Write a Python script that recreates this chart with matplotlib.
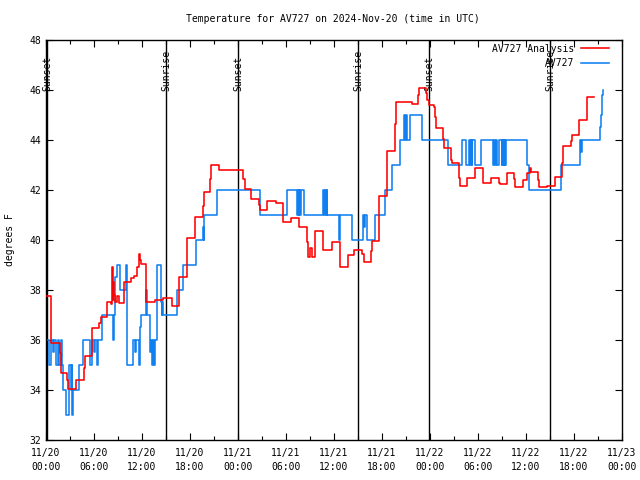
import matplotlib
matplotlib.use("Agg")
import matplotlib.pyplot as plt
import numpy as np

# Hours since 2024-11-20 00:00 UTC
red_h = [0.0, 0.67, 1.75, 1.83, 1.92, 2.67, 2.79, 3.71, 4.75, 4.83, 5.71, 5.79, 6.625, 6.83,
         7.58, 7.67, 8.08, 8.29, 8.35, 8.42, 8.5, 8.58, 8.92, 9.125, 9.75, 10.67, 11.0, 11.42,
         11.625, 11.75, 11.83, 12.46, 13.625, 14.67, 15.7, 16.67, 17.58, 18.625, 19.67, 19.8,
         20.5, 20.6, 21.67, 24.67, 24.875, 25.58, 26.58, 26.7, 27.67, 28.7, 29.67, 30.625,
         31.67, 32.58, 32.7, 33.0, 33.2, 33.625, 34.58, 35.71, 36.75, 37.71, 38.54, 39.46,
         39.75, 40.58, 40.71, 41.67, 42.58, 42.67, 43.625, 43.71, 45.71, 46.54, 46.625, 47.46,
         47.58, 47.875, 48.5, 48.625, 48.71, 49.67, 49.79, 50.625, 50.71, 51.625, 51.75,
         52.67, 53.625, 54.58, 54.67, 55.625, 56.67, 56.75, 57.67, 58.54, 58.625, 59.58,
         60.17, 60.5, 60.58, 61.54, 61.67, 62.67, 63.67, 64.46, 64.58, 64.67, 65.58, 65.71,
         66.625, 67.58, 68.54]
red_t = [37.76, 35.87, 35.47, 35.0, 34.67, 34.4, 34.03, 34.4, 34.87, 35.36, 36.0, 36.47, 36.69, 36.93,
         37.33, 37.53, 37.45, 38.9, 37.6, 38.3, 37.8, 37.53, 37.75, 37.47, 38.33, 38.47, 38.56, 38.93,
         39.44, 39.2, 39.04, 37.53, 37.6, 37.67, 37.36, 38.51, 40.07, 40.91, 41.37, 41.91,
         42.43, 42.99, 42.8, 42.43, 42.03, 41.63, 41.4, 41.2, 41.57, 41.47, 40.73, 40.87,
         40.51, 39.93, 39.33, 39.67, 39.33, 40.37, 39.6, 39.91, 38.91, 39.39, 39.6, 39.44,
         39.13, 39.57, 39.97, 41.76, 42.67, 43.57, 44.63, 45.51, 45.43, 45.8, 46.07, 45.87,
         45.6, 45.4, 45.33, 44.93, 44.47, 44.03, 43.67, 43.2, 43.07, 42.47, 42.16,
         42.47, 42.87, 42.53, 42.27, 42.47, 42.27, 42.24, 42.67, 42.43, 42.13, 42.4,
         42.67, 42.87, 42.73, 42.4, 42.11, 42.16, 42.51, 43.07, 43.13, 43.76, 43.97, 44.2,
         44.8, 45.73, 45.73]

blue_h = [0.0, 0.42, 0.58, 0.83, 1.0, 1.25, 1.45, 1.67, 1.83, 2.0, 2.17, 2.5, 2.92, 3.08, 3.2,
          3.3, 3.42, 4.17, 4.67, 5.5, 5.7, 6.0, 6.17, 6.33, 6.54, 6.96, 8.42, 8.54, 8.625,
          8.92, 9.25, 10.0, 10.17, 10.92, 11.1, 11.3, 11.6, 11.75, 11.9, 12.5, 12.67, 13.0,
          13.1, 13.2, 13.35, 13.5, 13.6, 13.83, 14.33, 14.45, 14.55, 14.67, 16.33, 17.17,
          18.7, 19.67, 19.72, 19.75, 19.8, 21.4, 26.75, 30.08, 31.42, 31.5, 31.58, 31.67,
          31.8, 31.9, 32.3, 34.67, 34.75, 34.85, 35.0, 35.1, 35.17, 36.67, 36.75, 38.2,
          39.58, 39.75, 39.85, 40.08, 41.125, 42.375, 43.2, 44.25, 44.75, 44.9, 45.0, 45.1,
          45.5, 46.96, 50.2, 51.96, 52.5, 52.9, 53.0, 53.08, 53.2, 53.3, 53.625, 54.4,
          55.92, 56.0, 56.1, 56.25, 56.4, 56.67, 56.96, 57.05, 57.1, 57.2, 57.25, 57.35,
          57.4, 57.5, 60.08, 60.35, 64.4, 66.8, 66.9, 66.95, 69.2, 69.35, 69.5, 69.6]
blue_t = [36, 35, 36, 35.5, 36, 35, 36, 35, 36, 35, 34, 33, 35, 34, 35,
          33, 34, 35, 36, 35, 36, 35.5, 36, 35, 36, 37, 36, 37, 38.5,
          39, 38, 39, 35, 36, 35.5, 36, 35, 36.5, 37, 38, 37, 35.5,
          36, 35, 36, 35, 36, 39, 37.5, 37, 37.5, 37, 38, 39,
          40, 40.5, 40, 40.5, 41, 42, 41, 42, 41, 42, 41, 42,
          41, 42, 41, 42, 41, 42, 41, 42, 41, 40, 41, 40,
          41, 40.5, 41, 40, 41, 42, 43, 44, 45, 44, 45, 44,
          45, 44, 43, 44, 43, 44, 43, 44, 43, 44, 43, 44,
          43, 44, 43, 44, 43, 44, 43, 44, 43, 44, 43, 44,
          43, 44, 43, 42, 43, 44, 43.5, 44, 44.5, 45, 45.8, 46]

sun_h = [0.125, 15.0, 24.0, 39.0, 47.875, 63.0]
sun_lab = ["Sunset", "Sunrise", "Sunset", "Sunrise", "Sunset", "Sunrise"]

xtick_h = list(range(0, 73, 6))
xtick_lab = ["11/20\n00:00", "11/20\n06:00", "11/20\n12:00", "11/20\n18:00",
             "11/21\n00:00", "11/21\n06:00", "11/21\n12:00", "11/21\n18:00",
             "11/22\n00:00", "11/22\n06:00", "11/22\n12:00", "11/22\n18:00",
             "11/23\n00:00"]

plt.rcParams['font.family'] = ['DejaVu Sans Mono']
FS = 7

fig = plt.figure(figsize=(6.4, 4.8), dpi=100)
ax = fig.add_axes([46/640, 1-440/480, 576/640, 400/480])

for h, lab in zip(sun_h, sun_lab):
    ax.axvline(h, color='black', lw=1.0, zorder=1)
    ax.text(h, 45.95, lab, rotation=90, ha='center', va='bottom', fontsize=FS, zorder=1)

ax.plot(red_h, red_t, drawstyle='steps-post', color='#ff0000', lw=1.15, label='AV727 Analysis', zorder=3)
ax.plot(blue_h, blue_t, drawstyle='steps-post', color='#1080f0', lw=1.15, label='AV727', zorder=2)

ax.set_xlim(0, 72)
ax.set_ylim(32, 48)
ax.set_xticks(xtick_h)
ax.set_xticklabels(xtick_lab, fontsize=FS, linespacing=1.4)
ax.set_xticks(np.arange(0, 73, 3), minor=True)
ax.set_yticks(range(32, 49, 2))
ax.tick_params(axis='y', labelsize=FS)
ax.tick_params(which='both', direction='in', top=True, right=True, length=5, width=0.8)
ax.tick_params(which='minor', length=3)
ax.tick_params(axis='x', pad=6)
for s in ax.spines.values():
    s.set_linewidth(1.0)

ax.set_ylabel('degrees F', fontsize=FS, labelpad=10)
fig.text(333/640, 1-19/480, 'Temperature for AV727 on 2024-Nov-20 (time in UTC)',
         ha='center', va='center', fontsize=FS)

ax.legend(loc='upper right', bbox_to_anchor=(1 - 8/576, 1 + 1/400), frameon=False, markerfirst=False,
          fontsize=FS, handlelength=2.9, handletextpad=0.7, labelspacing=0.45,
          borderaxespad=0.2, borderpad=0.3)

fig.savefig('out.png', dpi=100)
